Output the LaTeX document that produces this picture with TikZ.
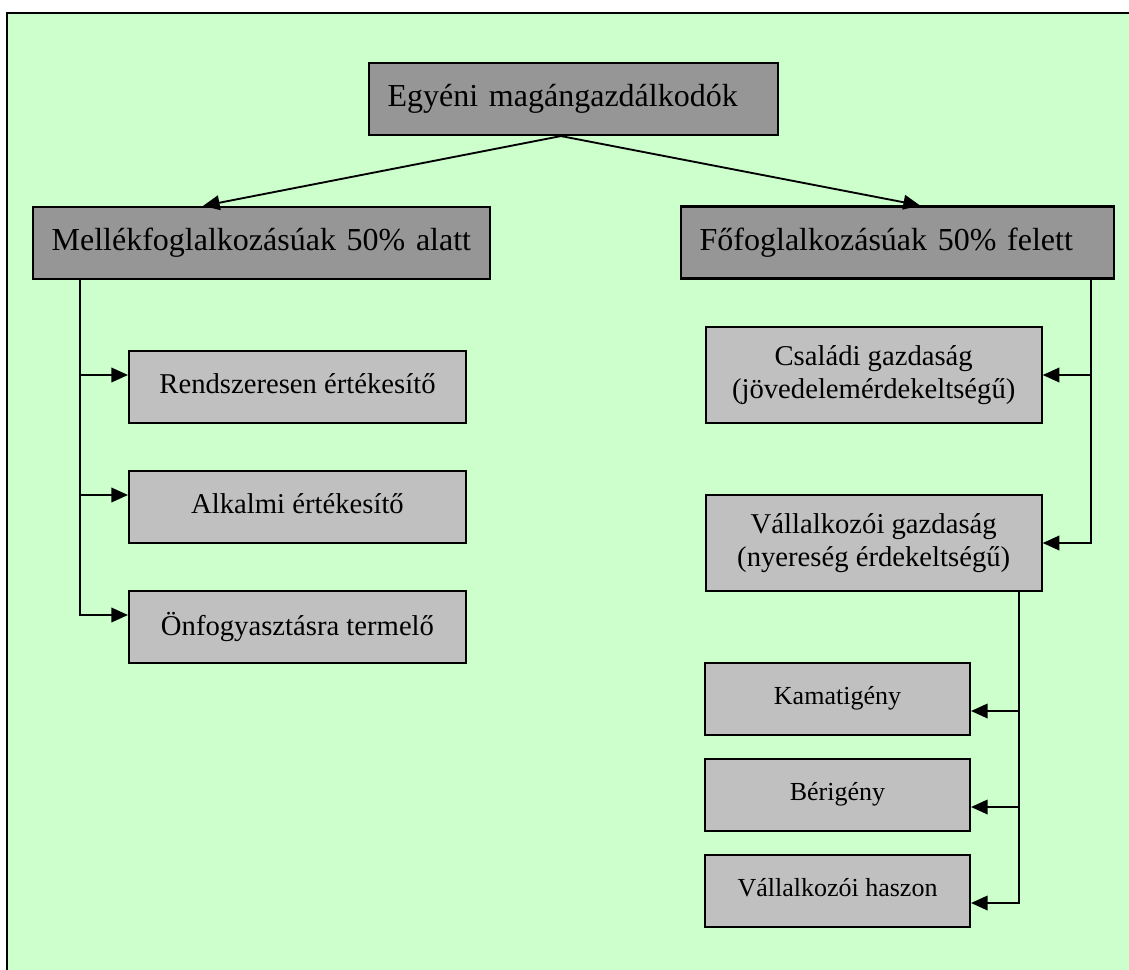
\documentclass[tikz,border=0pt]{standalone}
\usepackage{fontspec}
\setmainfont{Liberation Serif}
\usetikzlibrary{arrows.meta}

\definecolor{bggreen}{HTML}{CCFFCC}
\definecolor{boxdark}{HTML}{969696}
\definecolor{boxlight}{HTML}{C0C0C0}

\begin{document}
\begin{tikzpicture}[x=0.75pt,y=-0.75pt,
  mainbox/.style={rectangle, fill=boxdark, draw, line width=1.6pt,
          minimum height=54pt, inner xsep=14pt, align=left,
          font=\fontsize{24}{28}\selectfont},
  subbox/.style={rectangle, fill=boxlight, draw, line width=1.6pt,
          minimum width=252.75pt, minimum height=54pt, text depth=0.45em,
          font=\fontsize{21.5}{24.75}\selectfont},
  twobox/.style={rectangle, fill=boxlight, draw, line width=1.6pt,
          minimum width=252pt, minimum height=72.5pt, align=center,
          font=\fontsize{21.5}{24.75}\selectfont},
  smallbox/.style={rectangle, fill=boxlight, draw, line width=1.6pt,
          minimum width=198.75pt, minimum height=54pt, text depth=0.6em,
          font=\fontsize{19.5}{23}\selectfont},
  conn/.style={line width=1.4pt, -{Triangle[length=12.5pt,width=11pt]}}]
\useasboundingbox (0,0) rectangle (1129,970);
\fill[bggreen] (7,13) rectangle (1140,980);
\draw[line width=2.2pt] (7,980) -- (7,13) -- (1140,13);

\node[mainbox, text width=278.75pt] (egy) at (573.5,99) {Egyéni magángazdálkodók};
\node[mainbox, text width=314.75pt] (mell) at (261.5,243) {Mellékfoglalkozásúak 50\% alatt};
\node[mainbox, text width=296.75pt] (fo) at (897.5,242.5) {Főfoglalkozásúak 50\% felett};

\node[subbox] (rend) at (297.5,387) {Rendszeresen értékesítő};
\node[subbox] (alk) at (297.5,507) {Alkalmi értékesítő};
\node[subbox] (onf) at (297.5,627) {Önfogyasztásra termelő};

\node[twobox] (csal) at (873.7,375) {Családi gazdaság\\(jövedelemérdekeltségű)};
\node[twobox] (vall) at (873.7,543) {Vállalkozói gazdaság\\(nyereség érdekeltségű)};

\node[smallbox] (kam) at (837.5,699) {Kamatigény};
\node[smallbox] (ber) at (837.5,795) {Bérigény};
\node[smallbox] (has) at (837.5,891) {Vállalkozói haszon};

\draw[conn] ([xshift=-9.4pt]egy.south) -- ([xshift=-43.9pt]mell.north);
\draw[conn] ([xshift=-9.4pt]egy.south) -- ([xshift=16.9pt]fo.north);

\coordinate (lbus) at ([xshift=36pt]mell.south west);
\draw[conn] (lbus) |- ([yshift=9pt]rend.west);
\draw[conn] (lbus) |- ([yshift=9pt]alk.west);
\draw[conn] (lbus) |- ([yshift=9pt]onf.west);

\coordinate (rbus) at ([xshift=-18pt]fo.south east);
\draw[conn] (rbus) |- (csal.east);
\draw[conn] (rbus) |- (vall.east);

\coordinate (vbus) at ([xshift=-18pt]vall.south east);
\draw[conn] (vbus) |- ([yshift=-9pt]kam.east);
\draw[conn] (vbus) |- ([yshift=-9pt]ber.east);
\draw[conn] (vbus) |- ([yshift=-9pt]has.east);
\end{tikzpicture}
\end{document}
